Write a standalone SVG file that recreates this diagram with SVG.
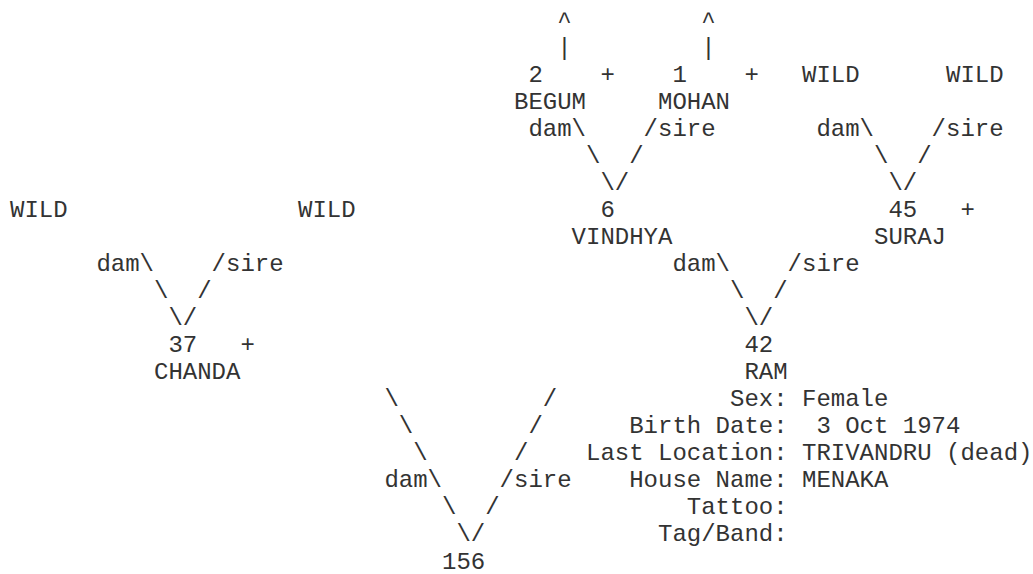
<svg xmlns="http://www.w3.org/2000/svg" width="1033" height="574" viewBox="0 0 1033 574">
<style>
text{font-family:"Liberation Mono","Courier New",monospace;font-size:24px;fill:#333;white-space:pre}
</style>
<rect width="1033" height="574" fill="#fff"/>
<g id="connectors">
<text x="557.2" y="27.5">^</text><text x="701.2" y="27.5">^</text>
<text x="557.2" y="54.55">|</text><text x="701.2" y="54.55">|</text>
<text x="528.4" y="135.7">dam\</text><text x="643.6" y="135.7">/sire</text>
<text x="816.4" y="135.7">dam\</text><text x="931.6" y="135.7">/sire</text>
<text x="586" y="162.75">\</text><text x="629.2" y="162.75">/</text>
<text x="874" y="162.75">\</text><text x="917.2" y="162.75">/</text>
<text x="600.4" y="189.8">\/</text><text x="888.4" y="189.8">\/</text>
<text x="96.4" y="270.95">dam\</text><text x="211.6" y="270.95">/sire</text>
<text x="672.4" y="270.95">dam\</text><text x="787.6" y="270.95">/sire</text>
<text x="154" y="298">\</text><text x="197.2" y="298">/</text>
<text x="730" y="298">\</text><text x="773.2" y="298">/</text>
<text x="168.4" y="325.05">\/</text><text x="744.4" y="325.05">\/</text>
<text x="384.4" y="406.2">\</text><text x="542.8" y="406.2">/</text>
<text x="398.8" y="433.25">\</text><text x="528.4" y="433.25">/</text>
<text x="413.2" y="460.3">\</text><text x="514" y="460.3">/</text>
<text x="384.4" y="487.35">dam\</text><text x="499.6" y="487.35">/sire</text>
<text x="442" y="514.4">\</text><text x="485.2" y="514.4">/</text>
<text x="456.4" y="541.45">\/</text>
</g>
<g id="node-2"><text x="528.4" y="81.6">2</text><text x="600.4" y="81.6">+</text><text x="514" y="108.65">BEGUM</text></g>
<g id="node-1"><text x="672.4" y="81.6">1</text><text x="744.4" y="81.6">+</text><text x="658" y="108.65">MOHAN</text></g>
<g id="wild-dam-45"><text x="802" y="81.6">WILD</text></g>
<g id="wild-sire-45"><text x="946" y="81.6">WILD</text></g>
<g id="wild-dam-37"><text x="10" y="216.85">WILD</text></g>
<g id="wild-sire-37"><text x="298" y="216.85">WILD</text></g>
<g id="node-6"><text x="600.4" y="216.85">6</text><text x="571.6" y="243.9">VINDHYA</text></g>
<g id="node-45"><text x="888.4" y="216.85">45</text><text x="960.4" y="216.85">+</text><text x="874" y="243.9">SURAJ</text></g>
<g id="node-37"><text x="168.4" y="352.1">37</text><text x="240.4" y="352.1">+</text><text x="154" y="379.15">CHANDA</text></g>
<g id="node-42"><text x="744.4" y="352.1">42</text><text x="744.4" y="379.15">RAM</text></g>
<g id="node-156">
<text x="730" y="406.2">Sex:</text><text x="802" y="406.2">Female</text>
<text x="629.2" y="433.25">Birth Date:</text><text x="816.4" y="433.25">3 Oct 1974</text>
<text x="586" y="460.3">Last Location:</text><text x="802" y="460.3">TRIVANDRU (dead)</text>
<text x="629.2" y="487.35">House Name:</text><text x="802" y="487.35">MENAKA</text>
<text x="686.8" y="514.4">Tattoo:</text>
<text x="658" y="541.45">Tag/Band:</text>
<text x="442" y="568.5">156</text>
</g>
</svg>
